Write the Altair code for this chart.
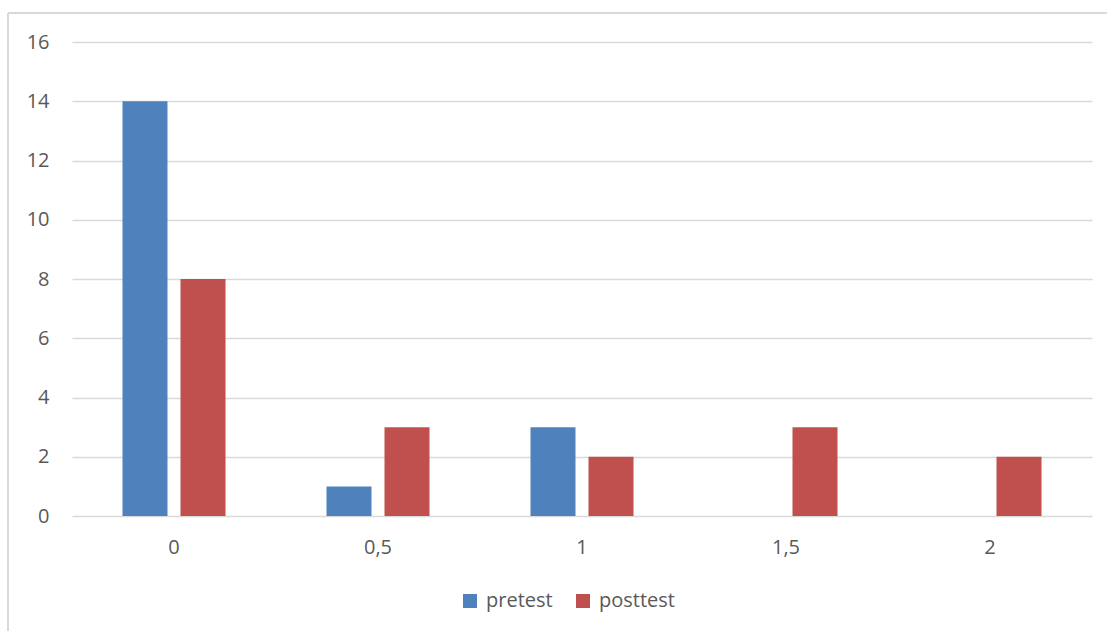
import altair as alt
import pandas as pd

categories = ["0", "0,5", "1", "1,5", "2"]
series = ["pretest", "posttest"]
pretest = [14, 1, 3, 0, 0]
posttest = [8, 3, 2, 3, 2]
colors = ["#4F81BD", "#C0504D"]
y_ticks = [0, 2, 4, 6, 8, 10, 12, 14, 16]

rows = []
for i, c in enumerate(categories):
    rows.append({"cat": c, "series": "pretest", "value": pretest[i]})
    rows.append({"cat": c, "series": "posttest", "value": posttest[i]})
df = pd.DataFrame(rows)

FONT = "Open Sans"
LABEL = "#595959"
GRID = "#D9D9D9"
FS = 20

bars = alt.Chart(df).mark_bar().encode(
    x=alt.X(
        "cat:N", sort=categories,
        scale=alt.Scale(paddingInner=0.495, paddingOuter=0.2475),
        axis=alt.Axis(title=None, labelAngle=0, domain=False, ticks=False, tickSize=0,
                      labelPadding=21, labelFontSize=FS, labelColor=LABEL, labelFont=FONT,
                      grid=False),
    ),
    xOffset=alt.XOffset("series:N", sort=series,
                        scale=alt.Scale(paddingInner=0.224, paddingOuter=0)),
    y=alt.Y(
        "value:Q", scale=alt.Scale(domain=[0, 16], nice=False),
        axis=alt.Axis(values=y_ticks, title=None, domain=False, ticks=False, tickSize=0,
                      labelPadding=23, labelFontSize=FS, labelColor=LABEL, labelFont=FONT,
                      grid=True, gridColor=GRID, gridWidth=1.3),
    ),
    color=alt.Color(
        "series:N", sort=series,
        scale=alt.Scale(domain=series, range=colors),
        legend=alt.Legend(title=None, orient="none", legendX=388, legendY=549,
                          direction="horizontal", symbolType="square", symbolSize=196,
                          symbolStrokeWidth=0, labelFontSize=FS, labelColor=LABEL,
                          labelFont=FONT, labelOffset=6, columnPadding=20, padding=0),
    ),
)

border_left = alt.Chart(df).mark_rule(color=GRID, strokeWidth=1.5).encode(
    x=alt.value(-64), y=alt.value(-29), y2=alt.value(600)
)
border_top = alt.Chart(df).mark_rule(color=GRID, strokeWidth=1.5).encode(
    x=alt.value(-64), x2=alt.value(1040), y=alt.value(-29)
)

chart = alt.layer(bars, border_left, border_top).properties(
    width=1020, height=474,
    autosize=alt.AutoSizeParams(type="none"),
    padding={"left": 72, "top": 42, "right": 15, "bottom": 115},
    background="white",
).configure_view(stroke=None)

chart.save("out.html", embed_options={"renderer": "svg", "actions": False})
